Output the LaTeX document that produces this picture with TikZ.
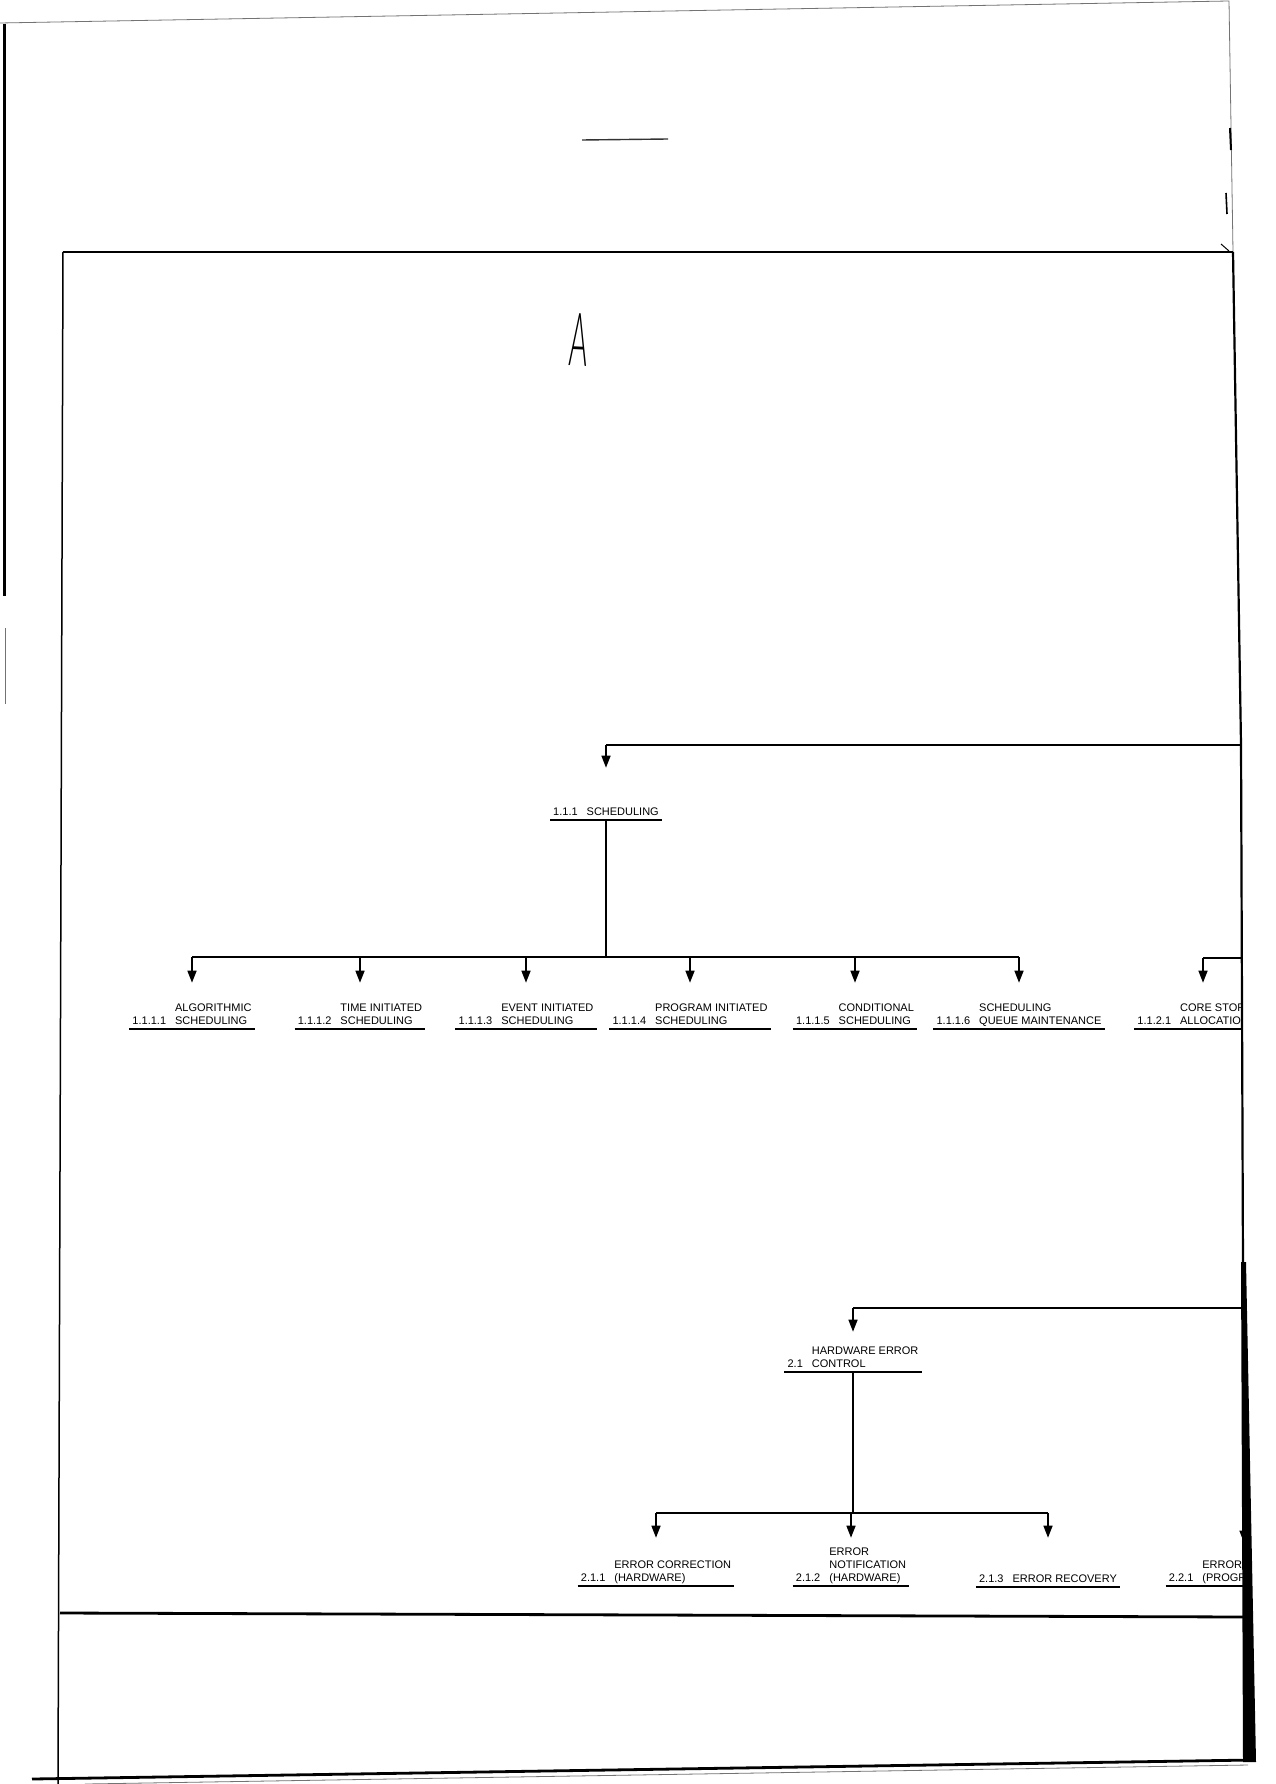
\documentclass[tikz,border=0pt]{standalone}
\usepackage{fontspec}
\setmainfont{Liberation Sans}
\newfontfamily\handfont{Lato}[UprightFont={* Light}]
\usetikzlibrary{arrows.meta,positioning}
\newcommand{\lbltab}[1]{\begin{tabular}[b]{@{}l@{\hspace{9pt}}l@{}}#1\end{tabular}}

\begin{document}
\begin{tikzpicture}[
    x=1pt, y=-1pt,
    lbl/.style={anchor=base, inner xsep=3pt, inner ysep=1pt,
        font=\fontsize{11}{13}\selectfont},
    bus/.style={line width=2.8pt},
    stem/.style={line width=1.5pt},
    arrow/.style={stem, -{Triangle[width=9pt,length=12pt]}, shorten >=18pt},
    uline/.style={line width=2.2pt},
    frame/.style={line width=2.8pt},
    edge/.style={line width=0.8pt, black!55},
]
\useasboundingbox (0,0) rectangle (1275,1784);
\fill[white] (0,0) rectangle (1275,1784);

% page edges and marks
\draw[edge] (0,23) -- (1229,1) -- (1233,252);
\draw[line width=3pt] (4,24) -- (4,596);
\draw[edge] (5,628) -- (5,704);
\draw[line width=2pt] (1230,128) -- (1231,150);
\draw[line width=1.6pt] (1226,193) -- (1227,214);
\draw[line width=1pt] (1221,244) -- (1229,251);
\draw[line width=1.4pt, black!80] (582,140) -- (668,139);

\begin{scope}[shift={(579,340)}, rotate=-3]
  \node[xscale=0.38, transform shape, inner sep=0pt,
      font=\handfont\fontsize{74}{74}\selectfont] (mark) at (0,0) {A};
\end{scope}

% tree
\begin{scope}
\clip (63,252) -- (1233,252) -- (1241,745) -- (1243,1270) -- (1245,1613) -- (63,1613) -- cycle;

\node[lbl] (sched) at (606,815) {\lbltab{1.1.1 & SCHEDULING}};

\node[lbl] (l1) at (192,1024) {\lbltab{& ALGORITHMIC\\ 1.1.1.1 & SCHEDULING}};
\node[lbl] (l2) at (360,1024) {\lbltab{& TIME INITIATED\\ 1.1.1.2 & SCHEDULING}};
\node[lbl] (l3) at (526,1024) {\lbltab{& EVENT INITIATED\\ 1.1.1.3 & SCHEDULING}};
\node[lbl] (l4) at (690,1024) {\lbltab{& PROGRAM INITIATED\\ 1.1.1.4 & SCHEDULING}};
\node[lbl] (l5) at (855,1024) {\lbltab{& CONDITIONAL\\ 1.1.1.5 & SCHEDULING}};
\node[lbl] (l6) at (1019,1024) {\lbltab{& SCHEDULING\\ 1.1.1.6 & QUEUE MAINTENANCE}};
\node[lbl] (l7) at (1203,1024) {\lbltab{& CORE STORAGE\\ 1.1.2.1 & ALLOCATION}};

\node[lbl] (hw) at (853,1367) {\lbltab{& HARDWARE ERROR\\ 2.1 & CONTROL}};

\node[lbl] (m1) at (656,1581) {\lbltab{& ERROR CORRECTION\\ 2.1.1 & (HARDWARE)}};
\node[lbl] (m2) at (851,1581) {\lbltab{& ERROR\\ & NOTIFICATION\\ 2.1.2 & (HARDWARE)}};
\node[lbl] (m3) at (1048,1582) {\lbltab{2.1.3 & ERROR RECOVERY}};
\node[lbl] (m4) at (1244,1581) {\lbltab{& ERROR CORRECTION\\ 2.2.1 & (PROGRAM)}};

\foreach \n in {sched,l1,l2,l3,l4,l5,l6,l7,hw,m1,m2,m3,m4}
    \draw[uline] (\n.south west) -- (\n.south east);

\coordinate (t0) at (1241,745);
\coordinate (b1) at (606,957);
\coordinate (c0) at (1242,958);
\coordinate (h0) at (1243,1308);
\coordinate (b2) at (851,1513);
\coordinate (p0) at (1244,1490);

\draw[bus] (t0) -- (t0 -| sched.north);
\draw[arrow, shorten >=37pt] (t0 -| sched.north) -- (sched.north);
\draw[stem] (sched.south) -- (sched.south |- b1);
\draw[bus] (l1.north |- b1) -- (l6.north |- b1);
\foreach \n in {l1,l2,l3,l4,l5,l6}
    \draw[arrow] (\n.north |- b1) -- (\n.north);
\draw[bus] (c0) -- (c0 -| l7.north);
\draw[arrow] (c0 -| l7.north) -- (l7.north);

\draw[bus] (h0) -- (h0 -| hw.north);
\draw[arrow, shorten >=12pt] (h0 -| hw.north) -- (hw.north);
\draw[stem] (hw.south) -- (hw.south |- b2);
\draw[bus] (m1.north |- b2) -- (m3.north |- b2);
\draw[arrow, shorten >=20pt] (m1.north |- b2) -- (m1.north);
\draw[arrow, shorten >=7pt] (m2.north |- b2) -- (m2.north);
\draw[arrow, shorten >=34pt] (m3.north |- b2) -- (m3.north);
\draw[arrow, shorten >=15pt] (p0) -- (m4.north);
\end{scope}

% frame
\draw[frame] (63,252) -- (1233,252);
\draw[line width=1.5pt] (63,252) -- (58,1784);
\draw[line width=2.2pt] (1233,252) -- (1241,745) -- (1243,1270);
\fill (1241,1262) -- (1246,1262) -- (1256,1762) -- (1243,1762) -- cycle;
\draw[frame] (60,1613) -- (1248,1617);
\draw[frame] (32,1779) -- (1252,1760);
\draw[edge] (85,1784) -- (1248,1765);

\end{tikzpicture}
\end{document}
